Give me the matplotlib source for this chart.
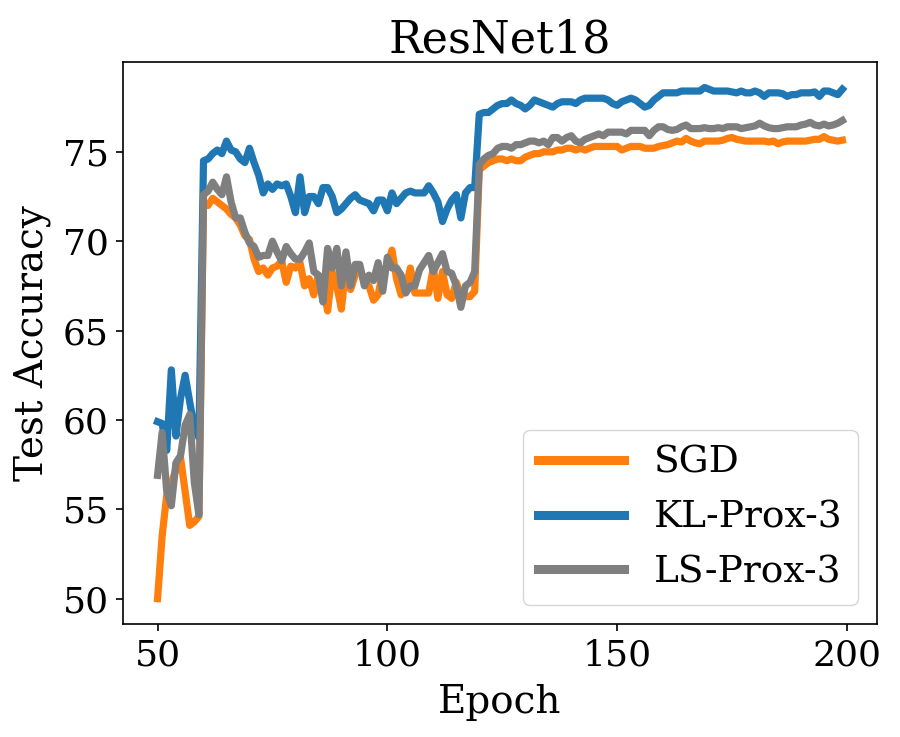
import matplotlib
matplotlib.use("Agg")
import matplotlib.pyplot as plt
import numpy as np

epochs = np.arange(50, 200)

sgd = [
    50.0, 53.5, 55.8, 56.5, 57.2, 57.9, 56.0, 54.1, 54.3, 54.6,
    72.1, 72.0, 72.4, 72.2, 72.0, 71.8, 71.5, 71.3, 70.9, 70.3,
    70.1, 69.0, 68.3, 68.5, 68.1, 68.5, 68.6, 68.9, 67.7, 68.6,
    68.5, 68.8, 67.5, 67.9, 67.0, 68.1, 67.5, 66.1, 68.3, 67.5,
    66.2, 68.6, 67.3, 68.1, 68.5, 67.7, 67.5, 66.7, 67.0, 68.3,
    68.6, 69.5, 67.9, 67.0, 67.3, 68.5, 67.1, 67.1, 67.1, 67.1,
    68.5, 66.8, 68.3, 67.0, 66.8, 67.7, 67.0, 66.9, 66.9, 67.2,
    74.0, 74.2, 74.4, 74.5, 74.6, 74.6, 74.5, 74.6, 74.5, 74.5,
    74.7, 74.8, 74.9, 74.9, 75.0, 75.0, 75.0, 75.1, 75.1, 75.2,
    75.2, 75.1, 75.2, 75.1, 75.2, 75.3, 75.3, 75.3, 75.3, 75.3,
    75.3, 75.1, 75.2, 75.3, 75.3, 75.3, 75.2, 75.2, 75.2, 75.3,
    75.35, 75.4, 75.5, 75.6, 75.55, 75.75, 75.6, 75.5, 75.45, 75.6,
    75.6, 75.6, 75.6, 75.65, 75.75, 75.8, 75.7, 75.65, 75.6, 75.6,
    75.6, 75.6, 75.6, 75.55, 75.6, 75.45, 75.55, 75.6, 75.6, 75.6,
    75.6, 75.6, 75.65, 75.7, 75.7, 75.85, 75.7, 75.65, 75.6, 75.65,
]

kl_prox = [
    59.9, 59.8, 58.3, 62.8, 59.1, 61.2, 62.5, 61.0, 59.6, 59.0,
    74.5, 74.6, 74.9, 75.1, 74.9, 75.6, 75.1, 75.0, 74.6, 74.4,
    75.2, 74.4, 73.7, 72.7, 73.2, 72.9, 73.2, 73.1, 73.2, 72.5,
    71.6, 73.6, 71.6, 72.5, 72.5, 72.1, 73.0, 73.0, 72.5, 71.6,
    71.8, 72.1, 72.4, 72.6, 72.3, 72.2, 72.1, 71.7, 72.3, 72.3,
    71.7, 72.7, 72.1, 72.4, 72.7, 72.8, 72.7, 72.7, 72.7, 73.1,
    72.7, 72.2, 71.1, 71.8, 72.3, 72.6, 71.3, 72.7, 73.0, 73.0,
    77.1, 77.2, 77.2, 77.4, 77.6, 77.7, 77.7, 77.9, 77.7, 77.6,
    77.4, 77.6, 77.9, 77.8, 77.7, 77.6, 77.5, 77.7, 77.8, 77.8,
    77.8, 77.7, 77.9, 78.0, 78.0, 78.0, 78.0, 78.0, 77.9, 77.7,
    77.6, 77.8, 77.9, 78.0, 77.9, 77.7, 77.5, 77.6, 77.9, 78.1,
    78.3, 78.3, 78.3, 78.3, 78.4, 78.4, 78.4, 78.4, 78.4, 78.6,
    78.5, 78.4, 78.4, 78.4, 78.4, 78.35, 78.3, 78.4, 78.3, 78.3,
    78.4, 78.3, 78.1, 78.3, 78.3, 78.3, 78.25, 78.1, 78.2, 78.2,
    78.3, 78.3, 78.3, 78.35, 78.1, 78.4, 78.4, 78.3, 78.2, 78.5,
]

ls_prox = [
    56.9, 59.3, 56.0, 55.2, 57.6, 58.0, 59.7, 60.3, 56.5, 54.7,
    72.6, 72.8, 73.3, 72.9, 72.6, 73.6, 72.2, 71.3, 71.3, 70.5,
    69.9, 69.7, 69.1, 69.2, 69.2, 70.0, 69.4, 68.9, 69.7, 69.3,
    69.0, 69.0, 69.4, 69.9, 68.3, 68.1, 66.6, 69.6, 68.5, 69.6,
    67.5, 69.4, 67.5, 68.7, 68.7, 67.5, 68.1, 67.8, 68.8, 67.2,
    69.1, 68.5, 68.5, 68.1, 67.1, 67.5, 67.5, 68.4, 68.8, 69.2,
    68.3, 68.8, 69.3, 68.3, 68.2, 67.5, 66.3, 67.5, 67.7, 68.3,
    74.3, 74.6, 74.8, 74.9, 75.2, 75.3, 75.3, 75.2, 75.4, 75.4,
    75.5, 75.6, 75.6, 75.5, 75.6, 75.4, 75.8, 75.8, 75.6, 75.8,
    75.9, 75.6, 75.5, 75.7, 75.8, 75.9, 76.0, 75.9, 76.1, 76.1,
    76.1, 76.1, 76.0, 76.2, 76.2, 76.2, 76.2, 75.9, 76.2, 76.4,
    76.4, 76.25, 76.2, 76.25, 76.4, 76.5, 76.3, 76.3, 76.3, 76.35,
    76.3, 76.3, 76.35, 76.3, 76.4, 76.4, 76.4, 76.3, 76.35, 76.4,
    76.45, 76.6, 76.45, 76.35, 76.3, 76.3, 76.35, 76.4, 76.4, 76.4,
    76.5, 76.55, 76.65, 76.5, 76.45, 76.55, 76.45, 76.5, 76.6, 76.75,
]

plt.rcParams["font.family"] = "DejaVu Serif"
plt.rcParams["axes.linewidth"] = 1.2

fig = plt.figure(figsize=(9, 7.37), dpi=100)
ax = fig.add_axes([0.137, 0.153, 0.837, 0.763])

ax.plot(epochs, sgd, color="#ff7f0e", linewidth=5.2, label="SGD")
ax.plot(epochs, kl_prox, color="#1f77b4", linewidth=5.2, label="KL-Prox-3")
ax.plot(epochs, ls_prox, color="#7f7f7f", linewidth=5.2, label="LS-Prox-3")

ax.set_yticks([50, 55, 60, 65, 70, 75])
ax.set_title("ResNet18", fontsize=32, pad=7)
ax.set_xlabel("Epoch", fontsize=28, labelpad=8)
ax.set_ylabel("Test Accuracy", fontsize=28, labelpad=8)
ax.tick_params(labelsize=26, length=5.25, width=1.2, pad=5.25)

leg = ax.legend(loc="lower right", fontsize=27, handlelength=2.3)
for line in leg.get_lines():
    line.set_linewidth(6.5)

fig.savefig("out.png", dpi=100)
